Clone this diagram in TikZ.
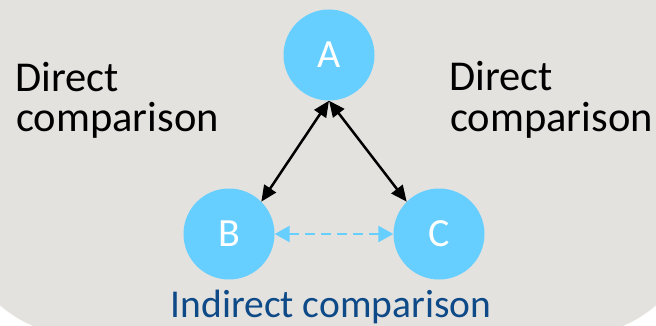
\documentclass[tikz,border=0pt]{standalone}
\usepackage{fontspec}
\setmainfont{Carlito}
\usetikzlibrary{arrows.meta}
\definecolor{bg}{HTML}{E4E2DF}
\definecolor{nodeblue}{HTML}{66CFFF}
\definecolor{darkblue}{HTML}{0D4A87}
\begin{document}
\begin{tikzpicture}[x=1pt,y=-1pt,
  circ/.style={circle, fill=nodeblue, minimum size=91pt, inner sep=0pt, text=white, font=\fontsize{40}{40}\selectfont},
  lbl/.style={inner sep=0pt, anchor=base west, font=\fontsize{42.5}{42.5}\selectfont},
  direct/.style={line width=2.5pt, {Triangle[length=16pt,width=14pt]}-{Triangle[length=16pt,width=14pt]}},
  indirect/.style={nodeblue, line width=2.5pt, dash pattern=on 10pt off 6pt, {Triangle[length=15pt,width=16pt]}-{Triangle[length=15pt,width=16pt]}}]
\useasboundingbox (0,0) rectangle (656,326);
\begin{scope}
\clip (0,0) rectangle (656,326);
\fill[bg, rounded corners=120pt] (-41,-200) rectangle (697,335);
\end{scope}
\node[circ] (A) at (329,55) {A};
\node[circ] (B) at (229,234) {B};
\node[circ] (C) at (439,234) {C};
\draw[direct] (A.south) -- (B.45);
\draw[direct] (A.south) -- (C.135);
\draw[indirect] (B.east) -- (C.west);
\node[lbl] (d1) at (15,92) {Direct};
\node[lbl] (c1) at (16,132) {comparison};
\node[lbl] (d2) at (449,91) {Direct};
\node[lbl] (c2) at (450,132) {comparison};
\node[inner sep=0pt, anchor=base, text=darkblue, font=\fontsize{39.5}{39.5}\selectfont] (ind) at (331,317) {Indirect comparison};
\end{tikzpicture}
\end{document}
